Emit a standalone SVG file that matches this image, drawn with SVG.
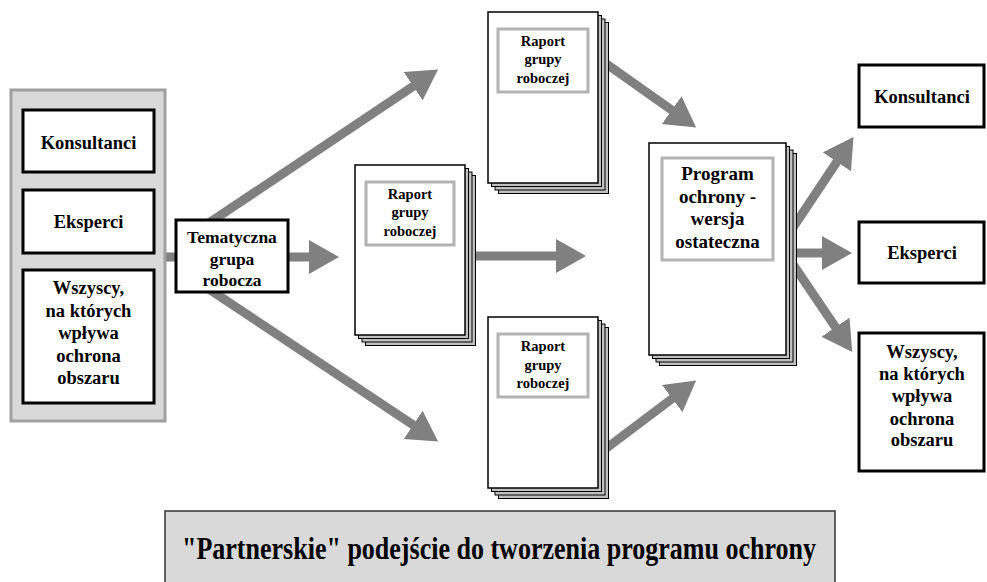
<svg xmlns="http://www.w3.org/2000/svg" width="987" height="582" viewBox="0 0 987 582">
<defs>
<style>
.t{font-family:'Liberation Serif','Tinos','Times New Roman','Times','DejaVu Serif Condensed','DejaVu Serif',serif;font-weight:700;fill:#000;text-anchor:middle}
.box{fill:#fff;stroke:#000;stroke-width:3}
.front{fill:#fff;stroke:#000;stroke-width:1.5}
.back{fill:#c0c0c0;stroke:#000;stroke-width:1}
.lbl{fill:#fff;stroke:#b3b3b3;stroke-width:3}
.c{stroke:#808080;stroke-width:9;fill:none}
</style>
<marker id="ah" markerUnits="userSpaceOnUse" viewBox="0 -17 30 34" markerWidth="30" markerHeight="34" refX="1" refY="0" orient="auto">
<path d="M0,-17 L30,0 L0,17 z" fill="#808080"/>
</marker>
</defs>
<rect width="987" height="582" fill="#fff"/>

<g id="connectors">
<line class="c" x1="160" y1="257" x2="182" y2="257"/>
<line class="c" x1="205" y1="225.6" x2="414" y2="85.7" marker-end="url(#ah)"/>
<line class="c" x1="280" y1="257" x2="310" y2="257" marker-end="url(#ah)"/>
<line class="c" x1="205" y1="286.5" x2="414" y2="425.4" marker-end="url(#ah)"/>
<line class="c" x1="470" y1="256" x2="557" y2="256" marker-end="url(#ah)"/>
<line class="c" x1="600" y1="59.3" x2="672.5" y2="110.7" marker-end="url(#ah)"/>
<line class="c" x1="600" y1="453" x2="673" y2="398" marker-end="url(#ah)"/>
<line class="c" x1="790" y1="232" x2="837.4" y2="161" marker-end="url(#ah)"/>
<line class="c" x1="790" y1="253" x2="823" y2="253" marker-end="url(#ah)"/>
<line class="c" x1="790" y1="260" x2="836" y2="328" marker-end="url(#ah)"/>
</g>

<g id="stakeholders-panel">
<rect x="11" y="90" width="154" height="331" fill="#d9d9d9" stroke="#a0a0a0" stroke-width="3"/>
</g>
<g id="left-konsultanci">
<rect class="box" x="23" y="110" width="131" height="62"/>
<text class="t" x="88.5" y="149" font-size="18.5">Konsultanci</text>
</g>
<g id="left-eksperci">
<rect class="box" x="23" y="190" width="131" height="63"/>
<text class="t" x="88.5" y="228" font-size="18.5">Eksperci</text>
</g>
<g id="left-wszyscy">
<rect class="box" x="23" y="270" width="131" height="133"/>
<text class="t" font-size="18.5"><tspan x="88.5" y="294">Wszyscy,</tspan><tspan x="88.5" y="316.5">na których</tspan><tspan x="88.5" y="339">wpływa</tspan><tspan x="88.5" y="361.5">ochrona</tspan><tspan x="88.5" y="384">obszaru</tspan></text>
</g>

<g id="tematyczna">
<rect class="box" x="176" y="220" width="112" height="72"/>
<text class="t" font-size="17.5"><tspan x="232" y="243">Tematyczna</tspan><tspan x="232" y="264.5">grupa</tspan><tspan x="232" y="286">robocza</tspan></text>
</g>

<g id="raport-top">
<rect class="back" x="498.5" y="22.5" width="110" height="171"/>
<rect class="back" x="495" y="19" width="110" height="171"/>
<rect class="back" x="491.5" y="15.5" width="110" height="171"/>
<rect class="front" x="488" y="12" width="110" height="171"/>
<rect class="lbl" x="498" y="29" width="90" height="63"/>
<text class="t" font-size="14.5"><tspan x="543" y="45.5">Raport</tspan><tspan x="543" y="64">grupy</tspan><tspan x="543" y="82.5">roboczej</tspan></text>
</g>

<g id="raport-center">
<rect class="back" x="365.5" y="175.5" width="110" height="170"/>
<rect class="back" x="362" y="172" width="110" height="170"/>
<rect class="back" x="358.5" y="168.5" width="110" height="170"/>
<rect class="front" x="355" y="165" width="110" height="170"/>
<rect class="lbl" x="366" y="182" width="88" height="63"/>
<text class="t" font-size="14.5"><tspan x="410" y="198.5">Raport</tspan><tspan x="410" y="217">grupy</tspan><tspan x="410" y="235.5">roboczej</tspan></text>
</g>

<g id="raport-bottom">
<rect class="back" x="498.5" y="327.5" width="110" height="171"/>
<rect class="back" x="495" y="324" width="110" height="171"/>
<rect class="back" x="491.5" y="320.5" width="110" height="171"/>
<rect class="front" x="488" y="317" width="110" height="171"/>
<rect class="lbl" x="498" y="334" width="90" height="63"/>
<text class="t" font-size="14.5"><tspan x="543" y="351">Raport</tspan><tspan x="543" y="369.5">grupy</tspan><tspan x="543" y="388">roboczej</tspan></text>
</g>

<g id="program">
<rect class="back" x="659.5" y="153.5" width="137" height="212"/>
<rect class="back" x="656" y="150" width="137" height="212"/>
<rect class="back" x="652.5" y="146.5" width="137" height="212"/>
<rect class="front" x="649" y="143" width="137" height="212"/>
<rect class="lbl" x="662" y="158" width="111" height="102"/>
<text class="t" font-size="19"><tspan x="717.5" y="180">Program</tspan><tspan x="717.5" y="202.5">ochrony -</tspan><tspan x="717.5" y="225">wersja</tspan><tspan x="717.5" y="247.5">ostateczna</tspan></text>
</g>

<g id="right-konsultanci">
<rect class="box" x="859" y="65" width="125" height="62"/>
<text class="t" x="922" y="103" font-size="18.5">Konsultanci</text>
</g>
<g id="right-eksperci">
<rect class="box" x="859" y="222" width="125" height="61"/>
<text class="t" x="922" y="259" font-size="18.5">Eksperci</text>
</g>
<g id="right-wszyscy">
<rect class="box" x="859" y="333" width="125" height="138"/>
<text class="t" font-size="18.5"><tspan x="922" y="358">Wszyscy,</tspan><tspan x="922" y="380">na których</tspan><tspan x="922" y="402">wpływa</tspan><tspan x="922" y="424.5">ochrona</tspan><tspan x="922" y="446">obszaru</tspan></text>
</g>

<g id="caption">
<rect x="165" y="511" width="670" height="72" fill="#d9d9d9" stroke="#333" stroke-width="1.5"/>
<text class="t" x="499" y="559" font-size="31" textLength="634" lengthAdjust="spacingAndGlyphs">"Partnerskie" podejście do tworzenia programu ochrony</text>
</g>
</svg>
